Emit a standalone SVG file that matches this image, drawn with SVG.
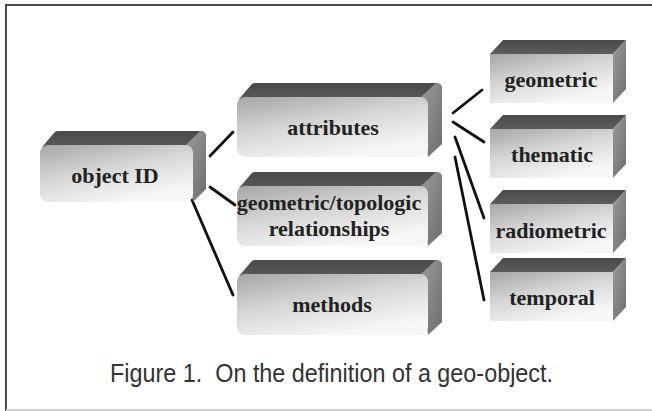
<svg xmlns="http://www.w3.org/2000/svg" width="652" height="411" viewBox="0 0 652 411">
  <defs>
    <linearGradient id="faceGrad" x1="0" y1="0" x2="0.55" y2="1">
      <stop offset="0" stop-color="#a6a6a6"/>
      <stop offset="0.5" stop-color="#d6d6d6"/>
      <stop offset="1" stop-color="#f7f7f7"/>
    </linearGradient>
    <linearGradient id="topGrad" x1="0" y1="0" x2="0" y2="1">
      <stop offset="0" stop-color="#4a4a4a"/>
      <stop offset="1" stop-color="#5c5c5c"/>
    </linearGradient>
    <linearGradient id="sideGrad" x1="0" y1="0" x2="1" y2="1">
      <stop offset="0" stop-color="#9a9a9a"/>
      <stop offset="1" stop-color="#6e6e6e"/>
    </linearGradient>
  </defs>
  <style>
    .frame { stroke: #4a4a4a; stroke-width: 2; fill: none; }
    .rule { stroke: #cfcfcf; stroke-width: 2; fill: none; }
    .top { fill: url(#topGrad); }
    .side { fill: url(#sideGrad); }
    .face { fill: url(#faceGrad); }
    .label { font-family: "Liberation Serif", "Times New Roman", serif; font-weight: bold; font-size: 22px; fill: #222222; text-anchor: middle; }
    .caption { font-family: "Liberation Sans", Arial, sans-serif; font-size: 26px; fill: #333333; white-space: pre; }
    .link { stroke: #111111; stroke-width: 2.8; stroke-linecap: round; fill: none; }
  </style>

  <rect width="652" height="411" fill="#ffffff"/>

  <!-- frame -->
  <path class="frame" d="M6 411 V5 H652"/>
  <path class="rule" d="M6 410 H652"/>

  <!-- connectors -->
  <g id="connectors">
    <line class="link" x1="210" y1="156" x2="233" y2="132"/>
    <line class="link" x1="210" y1="187" x2="235" y2="205"/>
    <line class="link" x1="192" y1="200" x2="233" y2="295"/>
    <line class="link" x1="453" y1="113" x2="482" y2="90"/>
    <line class="link" x1="453" y1="122" x2="484" y2="142"/>
    <line class="link" x1="455" y1="137" x2="484" y2="218"/>
    <line class="link" x1="455" y1="157" x2="484" y2="300"/>
  </g>

  <!-- rounded boxes: front x,y,w,h with depth 13 x 14 -->
  <g id="object-id">
    <path class="top" d="M42 147 L54 133 Q55 131 58 131 L200 131 Q206 131 206 137 L206 140 L193 153 Z"/>
    <path class="side" d="M186 145 L200 131 Q206 131 206 137 L206 189 L193 202 Z"/>
    <rect class="face" x="40" y="145" width="153" height="57" rx="8"/>
    <text class="label" x="115" y="183">object ID</text>
  </g>

  <g id="attributes">
    <path class="top" d="M239 99 L251 85 Q252 83 255 83 L436 83 Q442 83 442 89 L442 92 L428 105 Z"/>
    <path class="side" d="M421 97 L436 83 Q442 83 442 89 L442 144 L428 157 Z"/>
    <rect class="face" x="237" y="97" width="191" height="60" rx="8"/>
    <text class="label" x="333" y="135">attributes</text>
  </g>

  <g id="geometric-topologic">
    <path class="top" d="M239 188 L251 174 Q252 172 255 172 L436 172 Q442 172 442 178 L442 181 L428 194 Z"/>
    <path class="side" d="M421 186 L436 172 Q442 172 442 178 L442 233 L428 246 Z"/>
    <rect class="face" x="237" y="186" width="191" height="60" rx="8"/>
    <text class="label" x="329" y="210">geometric/topologic</text>
    <text class="label" x="329" y="236">relationships</text>
  </g>

  <g id="methods">
    <path class="top" d="M239 276 L251 262 Q252 260 255 260 L436 260 Q442 260 442 266 L442 269 L428 282 Z"/>
    <path class="side" d="M421 274 L436 260 Q442 260 442 266 L442 322 L428 335 Z"/>
    <rect class="face" x="237" y="274" width="191" height="61" rx="8"/>
    <text class="label" x="332" y="312">methods</text>
  </g>

  <!-- square boxes on the right -->
  <g id="geometric">
    <polygon class="top" points="490,54 503,40 626,40 613,54"/>
    <polygon class="side" points="613,54 626,40 626,89 613,103"/>
    <rect class="face" x="490" y="54" width="123" height="49"/>
    <text class="label" x="551" y="87">geometric</text>
  </g>

  <g id="thematic">
    <polygon class="top" points="490,129 503,115 626,115 613,129"/>
    <polygon class="side" points="613,129 626,115 626,164 613,178"/>
    <rect class="face" x="490" y="129" width="123" height="49"/>
    <text class="label" x="552" y="162">thematic</text>
  </g>

  <g id="radiometric">
    <polygon class="top" points="490,204 503,190 626,190 613,204"/>
    <polygon class="side" points="613,204 626,190 626,239 613,253"/>
    <rect class="face" x="490" y="204" width="123" height="49"/>
    <text class="label" x="551" y="238">radiometric</text>
  </g>

  <g id="temporal">
    <polygon class="top" points="490,272 503,258 626,258 613,272"/>
    <polygon class="side" points="613,272 626,258 626,307 613,321"/>
    <rect class="face" x="490" y="272" width="123" height="49"/>
    <text class="label" x="552" y="305">temporal</text>
  </g>

  <text class="caption" x="110" y="382" textLength="443" lengthAdjust="spacingAndGlyphs">Figure 1.  On the definition of a geo-object.</text>
</svg>
